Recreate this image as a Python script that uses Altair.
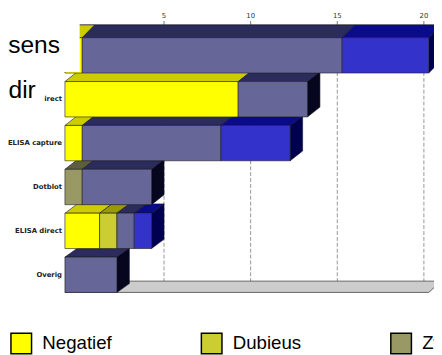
import altair as alt
import pandas as pd

# ---------------- data ----------------
rows = ["PCR", "direct", "ELISA capture", "Dotblot", "ELISA direct", "Overig"]
categories = ["Negatief", "Dubieus", "Zwak positief", "Positief", "Sterk positief"]
negatief = [1, 10, 1, 0, 2, 0]
dubieus = [0, 0, 0, 0, 1, 0]
zwak_positief = [0, 0, 0, 1, 0, 0]
positief = [15, 4, 8, 4, 1, 3]
sterk_positief = [5, 0, 4, 0, 1, 0]
tick_values = [5, 10, 15, 20]
axis_max = 21
title_lines = ["sens", "dir"]

front_colors = ["#FFFF00", "#CCCC33", "#999966", "#666699", "#3333CC"]
top_colors = ["#CCCC00", "#999900", "#5E5E3A", "#2B2B5C", "#0A0A8C"]
side_colors = ["#5A5A00", "#4A4A10", "#2E2E1E", "#06061E", "#000050"]

series = [negatief, dubieus, zwak_positief, positief, sterk_positief]

# ---------------- layout ----------------
W, H = 434, 347
PX_X = 17.65          # pixels per unit on x
ZERO_X = 58           # pixel of x=0 (front plane)
PITCH = 44.7          # pixels between rows
ROW0_Y = 45           # pixel of centre of first row
HALF = 18 / PITCH     # half bar thickness in row units
DEPTH_PX_X = 12.7
DEPTH_PX_Y = [13, 10, 10, 10, 9.5, 9]   # slight perspective per row
FLOOR_DEPTH_PX_Y = 11.5
DX = DEPTH_PX_X / PX_X

x_scale = alt.Scale(domain=[-ZERO_X / PX_X, (W - ZERO_X) / PX_X], nice=False, zero=False)
y_scale = alt.Scale(domain=[-ROW0_Y / PITCH, (H - ROW0_Y) / PITCH], nice=False, zero=False, reverse=True)

front, faces = [], []
for r, row in enumerate(rows):
    DY = DEPTH_PX_Y[r] / PITCH
    cum = 0
    segs = []
    for k, cat in enumerate(categories):
        v = series[k][r]
        if v > 0:
            segs.append((k, cum, cum + v))
            front.append({"row": row, "cat": cat, "x": cum, "x2": cum + v,
                          "y": r - HALF, "y2": r + HALF})
        cum += v
    yf = r - HALF
    yb = yf - DY
    for k, s, e in segs:
        fid = f"t{r}_{k}"
        for xx, lo, hi in [(s, yf, yf), (s + DX, yf, yb), (e, yf, yb), (e + DX, yb, yb)]:
            faces.append({"face": fid, "x": xx, "y": lo, "y2": hi, "fill": top_colors[k]})
    if segs:
        k, s, e = segs[-1]
        fid = f"s{r}_{k}"
        for xx, lo, hi in [(e, r + HALF, r - HALF), (e + DX, r + HALF - DY, r - HALF - DY)]:
            faces.append({"face": fid, "x": xx, "y": lo, "y2": hi, "fill": side_colors[k]})

front_df = pd.DataFrame(front)
faces_df = pd.DataFrame(faces)

floor_front = len(rows) - 1 + HALF
floor_back = floor_front - FLOOR_DEPTH_PX_Y / PITCH
floor_df = pd.DataFrame([
    {"x": 0, "y": floor_front, "y2": floor_front},
    {"x": DX, "y": floor_front, "y2": floor_back},
    {"x": axis_max, "y": floor_front, "y2": floor_back},
    {"x": axis_max + DX, "y": floor_back, "y2": floor_back},
])

top_line = -HALF - DEPTH_PX_Y[0] / PITCH     # back edge of first row = axis line
tick_len = 4 / PITCH
label_gap = 9.5 / PITCH

grid_df = pd.DataFrame({"t": tick_values})
grid_df["xb"] = grid_df["t"] + DX
grid_df["y"] = top_line
grid_df["y2"] = floor_back
grid_df["ty"] = top_line - tick_len
grid_df["ly"] = top_line - label_gap
grid_df["label"] = grid_df["t"].astype(str)

axis_line_df = pd.DataFrame({"x": [DX], "x2": [axis_max + 2 * DX + 1], "y": [top_line]})

# rows whose label is not hidden behind the slide's title box
label_df = pd.DataFrame({"row": rows[1:], "y": list(range(1, len(rows)))})

X = lambda f: alt.X(f, scale=x_scale, axis=None)
Y = lambda f: alt.Y(f, scale=y_scale, axis=None, stack=None)

grid = alt.Chart(grid_df).mark_rule(color="#8a8a8a", strokeWidth=0.9, strokeDash=[4, 2]).encode(
    x=X("xb:Q"), y=Y("y:Q"), y2="y2:Q")

ticks = alt.Chart(grid_df).mark_rule(color="#555", strokeWidth=0.8).encode(
    x=X("xb:Q"), y=Y("y:Q"), y2="ty:Q")

tick_labels = alt.Chart(grid_df).mark_text(baseline="middle", align="center", font="DejaVu Sans",
                                           fontSize=7, color="#333").encode(
    x=X("xb:Q"), y=Y("ly:Q"), text="label:N")

axis_line = alt.Chart(axis_line_df).mark_rule(color="#333", strokeWidth=0.8).encode(
    x=X("x:Q"), x2="x2:Q", y=Y("y:Q"))

floor = alt.Chart(floor_df).mark_area(orient="vertical", interpolate="linear", color="#CCCCCC",
                                      stroke="#444", strokeWidth=0.8).encode(
    x=X("x:Q"), y=Y("y:Q"), y2="y2:Q")

faces_layer = alt.Chart(faces_df).mark_area(orient="vertical", interpolate="linear",
                                            stroke="#15152a", strokeWidth=0.6).encode(
    x=X("x:Q"), y=Y("y:Q"), y2="y2:Q",
    detail="face:N",
    fill=alt.Fill("fill:N", scale=None),
)

fronts = alt.Chart(front_df).mark_rect(stroke="#1a1a1a", strokeWidth=0.6).encode(
    x=X("x:Q"), x2="x2:Q", y=Y("y:Q"), y2="y2:Q",
    color=alt.Color("cat:N", scale=alt.Scale(domain=categories, range=front_colors),
                    legend=alt.Legend(orient="none", legendX=2, legendY=327, direction="horizontal",
                                      values=categories[:3],
                                      title=None, symbolType="square", symbolSize=441,
                                      symbolStrokeColor="black", symbolStrokeWidth=1.5,
                                      labelFont="Liberation Sans", labelFontSize=19,
                                      labelColor="black", labelOffset=10, columnPadding=88,
                                      gridAlign="each", padding=0, offset=0)),
)

labels = alt.Chart(label_df).mark_text(
    align="right", baseline="middle", font="DejaVu Sans",
    fontSize=7, fontWeight="bold", color="#222").encode(
    x=alt.value(ZERO_X - 3), y=Y("y:Q"), text="row:N")

box1 = alt.Chart(pd.DataFrame({"a": [0]})).mark_rect(color="white").encode(
    x=alt.value(0), x2=alt.value(73), y=alt.value(0), y2=alt.value(62))
box2 = alt.Chart(pd.DataFrame({"a": [0]})).mark_rect(color="white").encode(
    x=alt.value(0), x2=alt.value(37), y=alt.value(62), y2=alt.value(99))

t1 = alt.Chart(pd.DataFrame({"t": [title_lines[0]]})).mark_text(
    align="right", baseline="alphabetic", font="Liberation Sans", fontSize=25, color="black").encode(
    x=alt.value(53), y=alt.value(43), text="t:N")
t2 = alt.Chart(pd.DataFrame({"t": [title_lines[1]]})).mark_text(
    align="left", baseline="alphabetic", font="Liberation Sans", fontSize=25, color="black").encode(
    x=alt.value(0.5), y=alt.value(88), text="t:N")

chart = alt.layer(grid, floor, axis_line, ticks, tick_labels, faces_layer, fronts, labels,
                  box1, box2, t1, t2).properties(
    width=W, height=H,
    autosize=alt.AutoSizeParams(type="none"),
    padding=0,
    background="white",
).configure_view(stroke=None)

chart.save("out.html", embed_options={"renderer": "svg", "actions": False})
